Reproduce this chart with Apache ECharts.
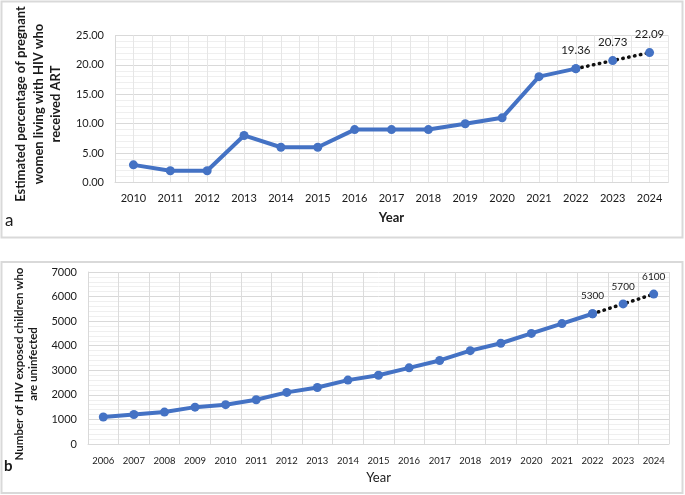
<!DOCTYPE html>
<html>
<head>
<meta charset="utf-8">
<title>HIV charts</title>
<script src="https://cdn.jsdelivr.net/npm/echarts@6/dist/echarts.min.js"></script>
<style>
  html, body { margin: 0; padding: 0; background: #fff; }
  #chart { width: 685px; height: 495px; }
</style>
</head>
<body>
<div id="chart"></div>
<script>
// panel a
var yearsA = ['2010','2011','2012','2013','2014','2015','2016','2017','2018','2019','2020','2021','2022','2023','2024'];
var artPct = [3, 2, 2, 8, 6, 6, 9, 9, 9, 10, 11, 18, 19.36, 20.73, 22.09];
var yTicksA = [0, 25, 5];   // min, max, step
// panel b
var yearsB = ['2006','2007','2008','2009','2010','2011','2012','2013','2014','2015','2016','2017','2018','2019','2020','2021','2022','2023','2024'];
var heuChildren = [1100, 1200, 1300, 1500, 1600, 1800, 2100, 2300, 2600, 2800, 3100, 3400, 3800, 4100, 4500, 4900, 5300, 5700, 6100];
var yTicksB = [0, 7000, 1000];
// last observed year, after that projected (dotted)
var lastObsA = '2022';
var lastObsB = '2022';

var FONT = 'Lato, "Open Sans", sans-serif';
var BLUE = '#4472C4';
var TXT = '#1a1a1a';

function solid(years, vals, last) {
    var k = years.indexOf(last);
    return vals.map(function (v, i) { return i <= k ? v : '-'; });
}
function dotted(years, vals, last) {
    var k = years.indexOf(last);
    return vals.map(function (v, i) { return i >= k ? v : '-'; });
}

var chart = echarts.init(document.getElementById('chart'));

var catAxis = function (grid, data, fs, margin) {
    return {
        type: 'category', gridIndex: grid, data: data,
        axisLine: { lineStyle: { color: '#d9d9d9', width: 1 } },
        axisTick: { show: false },
        axisLabel: { color: TXT, fontFamily: FONT, fontSize: fs, margin: margin },
        splitLine: { show: true, lineStyle: { color: '#dcdcdc', width: 1 } }
    };
};
var valAxis = function (grid, t, fs, fmt) {
    return {
        type: 'value', gridIndex: grid, min: t[0], max: t[1], interval: t[2],
        axisLine: { show: true, lineStyle: { color: '#d9d9d9' } },
        axisTick: { show: false },
        axisLabel: { color: TXT, fontFamily: FONT, fontSize: fs, margin: 11, formatter: fmt },
        splitLine: { lineStyle: { color: '#d9d9d9', width: 1 } },
        minorTick: { show: false, splitNumber: 5 },
        minorSplitLine: { show: true, lineStyle: { color: '#efefef', width: 1 } }
    };
};

var xA = catAxis(0, yearsA, 11, 10);
xA.name = 'Year';
xA.nameLocation = 'middle';
xA.nameGap = 29;
xA.nameTextStyle = { color: TXT, fontFamily: FONT, fontSize: 13, fontWeight: 'bold' };

var xB = catAxis(1, yearsB, 9.5, 12);
xB.name = 'Year';
xB.nameLocation = 'middle';
xB.nameGap = 27;
xB.nameTextStyle = { color: TXT, fontFamily: FONT, fontSize: 13 };

var yA = valAxis(0, yTicksA, 11, function (v) { return v.toFixed(2); });
yA.name = 'Estimated percentage of pregnant\nwomen living with HIV who\nreceived ART';
yA.nameLocation = 'middle';
yA.nameGap = 46;
yA.nameTextStyle = { color: TXT, fontFamily: FONT, fontSize: 13, fontWeight: 'bold', lineHeight: 17.5, padding: [0, 0, 0, 10] };

var yB = valAxis(1, yTicksB, 11, function (v) { return String(v); });
yB.name = 'Number of HIV exposed children who\nare uninfected';
yB.nameLocation = 'middle';
yB.nameGap = 44;
yB.nameTextStyle = { color: TXT, fontFamily: FONT, fontSize: 11.5, fontWeight: 'bold', lineHeight: 14, padding: [0, 12, 0, 0] };

// extra vertical lines through category centres on panel a
var xAhalf = {
    type: 'value', gridIndex: 0, min: 0, max: yearsA.length, interval: 0.5,
    axisLine: { show: false }, axisTick: { show: false }, axisLabel: { show: false },
    splitLine: { show: true, lineStyle: { color: '#e6e6e6', width: 1 } }
};

function lineSeries(xi, yi, data, isDot, fmt) {
    var s = {
        type: 'line', xAxisIndex: xi, yAxisIndex: yi, data: data,
        symbol: 'circle', symbolSize: 9, showSymbol: true,
        itemStyle: { color: BLUE },
        lineStyle: { color: BLUE, width: 4 },
        z: 3
    };
    if (isDot) {
        s.lineStyle = { color: '#111', width: 3.5, type: [0.5, 5.5], cap: 'round' };
        s.z = 2;
        s.label = {
            show: true, position: 'top', distance: 8,
            color: TXT, fontFamily: FONT, fontSize: fmt ? 11.5 : 10,
            formatter: function (p) { return fmt ? fmt(p.value) : p.value; }
        };
    }
    return s;
}

chart.setOption({
    animation: false,
    grid: [
        { left: 115, top: 35.5, width: 553, height: 147 },
        { left: 88, top: 272, width: 581, height: 172 }
    ],
    xAxis: [xA, xB, xAhalf],
    yAxis: [yA, yB],
    series: [
        lineSeries(0, 0, solid(yearsA, artPct, lastObsA), false),
        lineSeries(0, 0, dotted(yearsA, artPct, lastObsA), true, function (v) { return v.toFixed(2); }),
        lineSeries(1, 1, solid(yearsB, heuChildren, lastObsB), false),
        lineSeries(1, 1, dotted(yearsB, heuChildren, lastObsB), true)
    ],
    graphic: [
        { type: 'rect', shape: { x: 1.5, y: 1.5, width: 681, height: 236 }, style: { fill: 'none', stroke: '#d9d9d9', lineWidth: 2 }, silent: true },
        { type: 'rect', shape: { x: 1.5, y: 262, width: 681, height: 231 }, style: { fill: 'none', stroke: '#d9d9d9', lineWidth: 2 }, silent: true },
        { type: 'text', left: 5, top: 212, style: { text: 'a', fontFamily: FONT, fontSize: 17, fill: TXT } },
        { type: 'text', left: 4, top: 459, style: { text: 'b', fontFamily: FONT, fontSize: 15, fontWeight: 'bold', fill: TXT } }
    ]
});
</script>
</body>
</html>
